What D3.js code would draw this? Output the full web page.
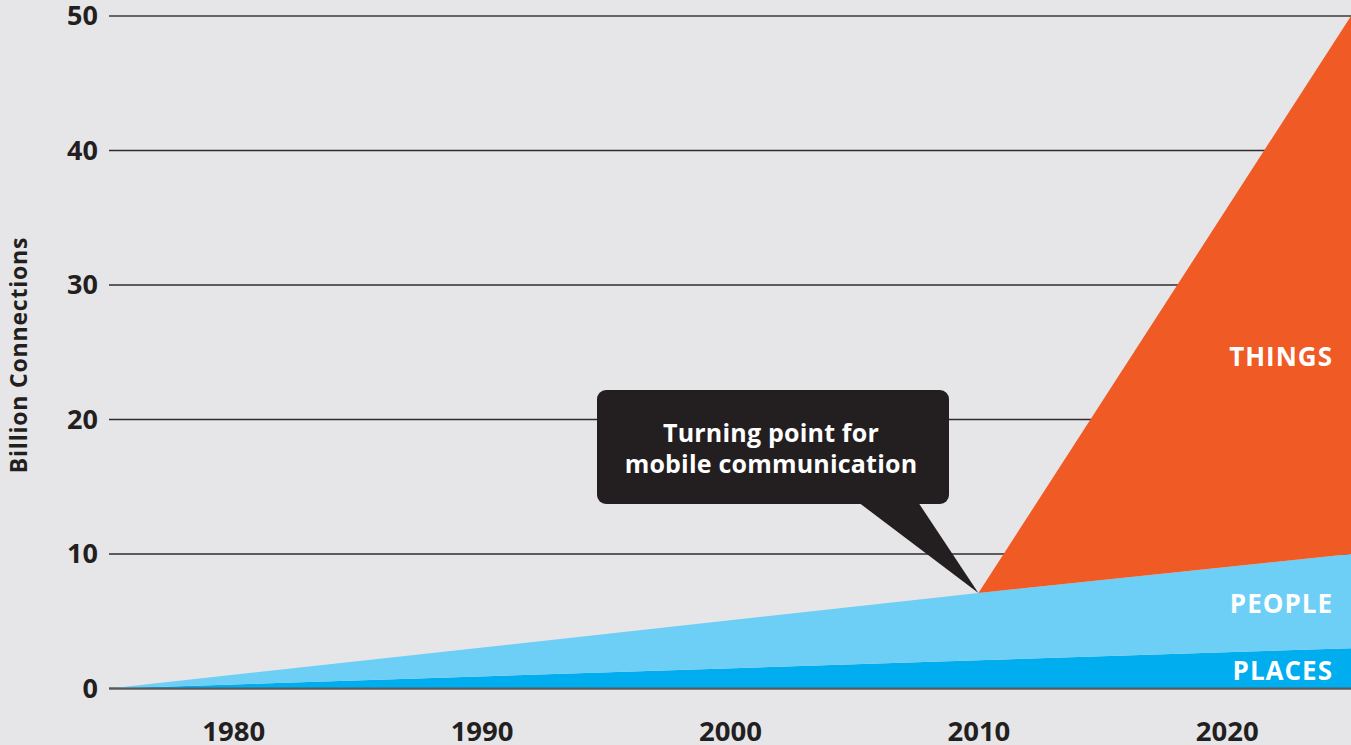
<!DOCTYPE html>
<html>
<head>
<meta charset="utf-8">
<script src="https://cdn.jsdelivr.net/npm/d3@7"></script>
<style>
  html, body { margin: 0; padding: 0; background: #e6e6e8; }
  svg { display: block; font-family: "Open Sans", Lato, sans-serif; }
</style>
</head>
<body>
<div id="chart"></div>
<script>
const years = [1975, 2010, 2025]
const places = [0, 2.1, 3]
const people = [0, 5.0, 7]
const things = [0, 0, 40]

const seriesKeys = ['places', 'people', 'things']
const seriesLabels = ['PLACES', 'PEOPLE', 'THINGS']
const seriesColors = ['#00aeef', '#6dcff6', '#f05a24']

const yTicks = [0, 10, 20, 30, 40, 50]
const xTicks = [1980, 1990, 2000, 2010, 2020]

const calloutLines = ['Turning point for', 'mobile communication']
const calloutYear = 2010

document.addEventListener('DOMContentLoaded', function() {

    const width = 1351
    const height = 745
    const margin = {left: 109, right: 0, top: 16, bottom: 56}

    const svg = d3.select('#chart').append('svg')
        .attr('width', width)
        .attr('height', height)

    svg.append('rect')
        .attr('width', width)
        .attr('height', height)
        .attr('fill', '#e6e6e8')

    const x = d3.scaleLinear()
        .domain([1975, 2025])
        .range([margin.left, width - margin.right])

    const y = d3.scaleLinear()
        .domain([0, 50])
        .range([height - margin.bottom - 0.5, margin.top])

    const rows = years.map((yr, i) => ({
        year: yr,
        places: places[i],
        people: people[i],
        things: things[i]
    }))

    const stacked = d3.stack().keys(seriesKeys)(rows)

    // gridlines
    svg.append('g')
        .selectAll('line')
        .data(yTicks)
        .join('line')
            .attr('x1', x.range()[0])
            .attr('x2', x.range()[1])
            .attr('y1', d => y(d))
            .attr('y2', d => y(d))
            .attr('stroke', d => (d === 0 || d === 50) ? '#666668' : '#2f2c2d')
            .attr('stroke-width', d => (d === 0 || d === 50) ? 2 : 1.3)

    const area = d3.area()
        .x(d => x(d.data.year))
        .y0(d => y(d[0]))
        .y1(d => y(d[1]))

    svg.append('g')
        .selectAll('path')
        .data(stacked)
        .join('path')
            .attr('d', area)
            .attr('fill', (d, i) => seriesColors[i])

    // zero baseline on top of the areas
    svg.append('line')
        .attr('x1', x.range()[0])
        .attr('x2', x.range()[1])
        .attr('y1', y(0))
        .attr('y2', y(0))
        .attr('stroke', '#58595b')
        .attr('stroke-width', 2)

    // y axis
    const yAxis = svg.append('g')
        .attr('transform', `translate(${margin.left - 11},0)`)
        .call(d3.axisLeft(y).tickValues(yTicks).tickSize(0).tickPadding(0))
    yAxis.select('.domain').remove()
    yAxis.selectAll('text')
        .attr('font-size', 27)
        .attr('font-weight', 700)
        .attr('fill', '#231f20')
        .attr('font-family', '"Open Sans", sans-serif')

    // x axis
    const xAxis = svg.append('g')
        .attr('transform', `translate(0,${y(0)})`)
        .call(d3.axisBottom(x).tickValues(xTicks).tickFormat(d3.format('d')).tickSize(0).tickPadding(33))
    xAxis.select('.domain').remove()
    xAxis.selectAll('text')
        .attr('font-size', 27.5)
        .attr('font-weight', 700)
        .attr('fill', '#231f20')
        .attr('font-family', '"Open Sans", sans-serif')

    svg.append('text')
        .attr('transform', `translate(27,355) rotate(-90)`)
        .attr('text-anchor', 'middle')
        .attr('font-size', 23)
        .attr('font-weight', 700)
        .attr('letter-spacing', 0.8)
        .attr('fill', '#231f20')
        .text('Billion Connections')

    // series labels at the right edge
    const last = rows.length - 1
    svg.append('g')
        .selectAll('text')
        .data(stacked)
        .join('text')
            .attr('x', x(2025) - 18)
            .attr('y', (d, i) => {
                if (i === 2) return y(d[last][0] + 14)
                return (y(d[last][1]) + y(d[last][0])) / 2 + 12
            })
            .attr('text-anchor', 'end')
            .attr('font-size', 26)
            .attr('font-weight', 700)
            .attr('letter-spacing', 1)
            .attr('fill', '#ffffff')
            .text((d, i) => seriesLabels[i])

    // callout
    const tipIdx = years.indexOf(calloutYear)
    const tipX = x(calloutYear)
    const tipY = y(places[tipIdx] + people[tipIdx])
    const box = {x0: 597, x1: 949, y0: 390, y1: 504}

    const callout = svg.append('g')
    callout.append('path')
        .attr('d', `M${858},${box.y1 - 2}L${tipX},${tipY}L${918},${box.y1 - 2}Z`)
        .attr('fill', '#231f20')
    callout.append('rect')
        .attr('x', box.x0)
        .attr('y', box.y0)
        .attr('width', box.x1 - box.x0)
        .attr('height', box.y1 - box.y0)
        .attr('rx', 9)
        .attr('fill', '#231f20')
    callout.selectAll('text')
        .data(calloutLines)
        .join('text')
            .attr('x', (box.x0 + box.x1) / 2 - 2)
            .attr('y', (d, i) => 442 + i * 31)
            .attr('text-anchor', 'middle')
            .attr('font-size', 25)
            .attr('font-weight', 700)
            .attr('letter-spacing', 0.2)
            .attr('fill', '#ffffff')
            .text(d => d)
});
</script>
</body>
</html>
